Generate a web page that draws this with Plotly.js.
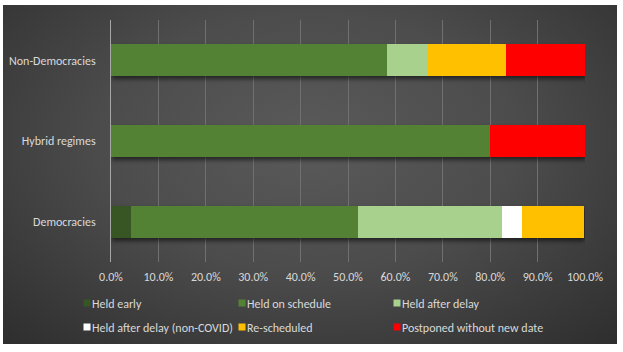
<!DOCTYPE html>
<html>
<head>
<meta charset="utf-8">
<script src="https://cdn.plot.ly/plotly-3.0.1.min.js"></script>
<style>
  html, body { margin: 0; padding: 0; background: #ffffff; }
  #wrap { position: relative; width: 623px; height: 352px; overflow: hidden; background: #ffffff; }
  #bg { position: absolute; left: 3px; top: 5px; width: 614px; height: 339px;
        background: radial-gradient(ellipse 75% 85% at 50% 40%, #5a5a5a 0%, #4c4c4c 45%, #2c2c2c 100%); }
  #chart { position: absolute; left: 0; top: 0; width: 623px; height: 352px; }
  #chart .barlayer { filter: drop-shadow(1px 3px 2px rgba(0,0,0,0.55)); }
  #chart .legendpoints { transform: translateX(15px); }
  #chart .scrollbox { clip-path: none !important; }
</style>
</head>
<body>
<div id="wrap"><div id="bg"></div><div id="chart"></div></div>
<script>
// Data
const categories = ["Democracies", "Hybrid regimes", "Non-Democracies"];
const seriesNames = ["Held early", "Held on schedule", "Held after delay",
                     "Held after delay (non-COVID)", "Re-scheduled", "Postponed without new date"];
const heldEarly          = [0.043, 0.0,   0.0];
const heldOnSchedule     = [0.478, 0.800, 0.583];
const heldAfterDelay     = [0.304, 0.0,   0.083];
const heldAfterDelayNonC = [0.043, 0.0,   0.0];
const rescheduled        = [0.130, 0.0,   0.167];
const postponed          = [0.0,   0.200, 0.167];
const tickVals  = [0, 0.1, 0.2, 0.3, 0.4, 0.5, 0.6, 0.7, 0.8, 0.9, 1.0];
const tickTexts = ["0.0%", "10.0%", "20.0%", "30.0%", "40.0%", "50.0%", "60.0%", "70.0%", "80.0%", "90.0%", "100.0%"];

const seriesValues = [heldEarly, heldOnSchedule, heldAfterDelay, heldAfterDelayNonC, rescheduled, postponed];
const colors = ["#375623", "#548235", "#a9d18e", "#ffffff", "#ffc000", "#ff0000"];
const FONT = "Carlito, Calibri, Lato, 'Liberation Sans', Arial, sans-serif";

const traces = [];
seriesNames.forEach((name, i) => {
  traces.push({
    type: "bar", orientation: "h", name: name,
    x: seriesValues[i], y: categories,
    marker: { color: colors[i], line: { width: 0 } },
    showlegend: false, hoverinfo: "skip"
  });
});
seriesNames.forEach((name, i) => {
  traces.push({
    type: "scatter", mode: "markers", name: name,
    x: [null], y: [null],
    legend: i < 3 ? "legend" : "legend2",
    marker: { symbol: "square", size: 7, color: colors[i], line: { width: 0 } },
    showlegend: true, hoverinfo: "skip"
  });
});

const legendBase = {
  orientation: "h", xanchor: "left", yanchor: "middle",
  entrywidth: 110, entrywidthmode: "pixels",
  itemwidth: 30, traceorder: "normal",
  font: { family: FONT, size: 12, color: "#d9d9d9" },
  bgcolor: "rgba(0,0,0,0)", borderwidth: 0
};

const layout = {
  width: 623, height: 352,
  paper_bgcolor: "rgba(0,0,0,0)", plot_bgcolor: "rgba(0,0,0,0)",
  margin: { l: 111, r: 38, t: 20, b: 90, pad: 0, autoexpand: false },
  barmode: "stack", bargap: 0.6,
  font: { family: FONT, size: 12, color: "#d9d9d9" },
  showlegend: true,
  xaxis: {
    range: [0, 1], tickvals: tickVals, ticktext: tickTexts,
    showgrid: true, gridcolor: "#707070", gridwidth: 1,
    zeroline: false, showline: false, ticks: "", ticklabelstandoff: 6,
    tickfont: { family: FONT, size: 12, color: "#d9d9d9" }, fixedrange: true
  },
  yaxis: {
    type: "category", range: [-0.5, 2.5],
    showgrid: false, zeroline: false, showline: true, linecolor: "#a6a6a6", linewidth: 1,
    ticks: "", ticklabelstandoff: 12,
    tickfont: { family: FONT, size: 12, color: "#d9d9d9" }, fixedrange: true
  },
  legend: Object.assign({}, legendBase, { x: (52 - 111) / 474, y: -(303 - 262) / 242 }),
  legend2: Object.assign({}, legendBase, { x: (52 - 111) / 474, y: -(327 - 262) / 242 })
};

Plotly.newPlot("chart", traces, layout, { displayModeBar: false, staticPlot: true });
</script>
</body>
</html>
